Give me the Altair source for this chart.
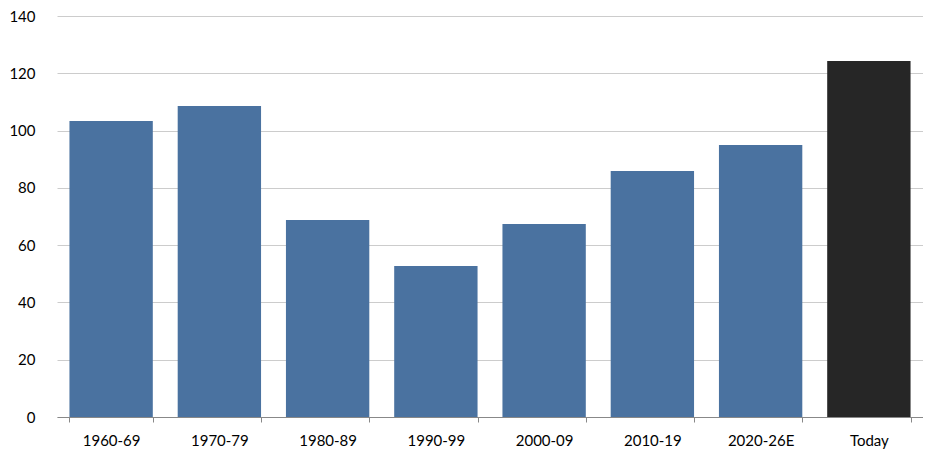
import altair as alt
import pandas as pd

categories = ["1960-69", "1970-79", "1980-89", "1990-99", "2000-09", "2010-19", "2020-26E", "Today"]
values = [103.3, 108.6, 68.8, 52.7, 67.4, 85.9, 95.0, 124.3]
groups = ["hist", "hist", "hist", "hist", "hist", "hist", "hist", "today"]

df = pd.DataFrame({"period": categories, "value": values, "group": groups})

chart = alt.Chart(df).mark_bar().encode(
    x=alt.X("period:N", sort=categories, title=None,
            scale=alt.Scale(paddingInner=0.23, paddingOuter=0.115),
            axis=alt.Axis(labelAngle=0, tickBand="extent", tickSize=5, tickColor="#888888",
                          domainColor="#888888", labelPadding=11, labelFontSize=15,
                          labelColor="#000000", labelFont="Lato", grid=False)),
    y=alt.Y("value:Q", title=None,
            scale=alt.Scale(domain=[0, 140], nice=False),
            axis=alt.Axis(values=[0, 20, 40, 60, 80, 100, 120, 140], domain=False, ticks=False,
                          labelPadding=22, labelFontSize=15, labelColor="#000000",
                          labelFont="Lato", gridColor="#cccccc", gridWidth=1)),
    color=alt.Color("group:N", scale=alt.Scale(domain=["hist", "today"], range=["#4a72a0", "#262626"]),
                    legend=None),
).properties(
    width=866, height=401,
    autosize=alt.AutoSizeParams(type="none"),
    padding={"left": 49, "top": 8, "right": 0, "bottom": 32},
).configure_view(stroke=None)

chart.save("out.html", embed_options={"renderer": "svg", "actions": False})
